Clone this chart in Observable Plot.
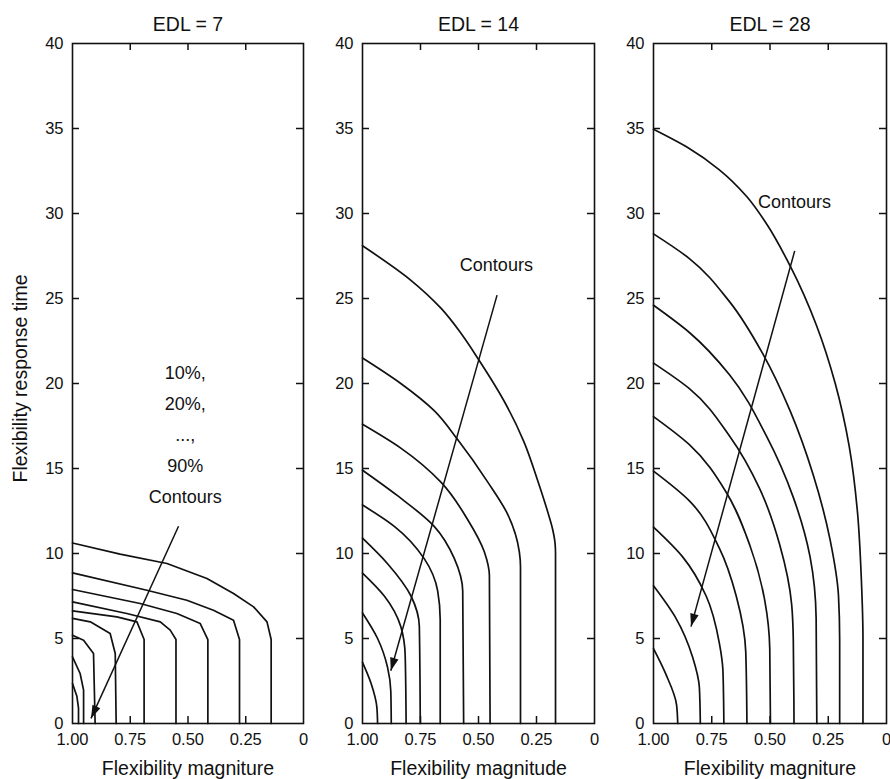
<!DOCTYPE html>
<html>
<head>
<meta charset="utf-8">
<script src="https://cdn.jsdelivr.net/npm/d3@7"></script>
<script src="https://cdn.jsdelivr.net/npm/@observablehq/plot@0.6"></script>
<style>
  body { margin: 0; background: #fff; }
  #chart { position: relative; width: 890px; height: 779px; background: #fff; }
  #chart svg { position: absolute; top: 0; }
</style>
</head>
<body>
<div id="chart"></div>
<script>
// ---------- data ----------
const panelTitles = ["EDL = 7", "EDL = 14", "EDL = 28"];
const xAxisLabels = ["Flexibility magniture", "Flexibility magnitude", "Flexibility magniture"];
const yAxisLabel = "Flexibility response time";
const xTickValues = [1, 0.75, 0.5, 0.25, 0];
const yTickValues = [0, 5, 10, 15, 20, 25, 30, 35, 40];

// contour lines, [flexibility magnitude, response time], outermost first
const edl7Contours = [
  [[1, 10.62], [0.794, 9.96], [0.591, 9.41], [0.418, 8.53], [0.303, 7.65], [0.216, 6.86], [0.158, 5.98], [0.140, 4.94], [0.140, 0]],
  [[1, 8.86], [0.678, 7.84], [0.505, 7.25], [0.39, 6.66], [0.303, 6.08], [0.277, 4.94], [0.277, 0]],
  [[1, 7.88], [0.707, 7.06], [0.548, 6.47], [0.447, 5.88], [0.414, 4.94], [0.414, 0]],
  [[1, 7.15], [0.765, 6.47], [0.62, 5.98], [0.577, 5.49], [0.552, 4.94], [0.552, 0]],
  [[1, 6.62], [0.808, 6.27], [0.721, 5.98], [0.69, 4.94], [0.69, 0]],
  [[1, 6.18], [0.923, 5.98], [0.837, 5.29], [0.815, 4.12], [0.811, 0]],
  [[1, 5.19], [0.952, 4.9], [0.909, 4.12], [0.902, 0]],
  [[1, 3.92], [0.967, 2.94], [0.952, 1.96], [0.952, 0]],
  [[1, 2.35], [0.981, 1.6], [0.974, 0.9], [0.974, 0]]
];
const edl14Contours = [
  [[1, 28.1], [0.794, 26.1], [0.66, 24.4], [0.578, 23.0], [0.499, 21.4], [0.391, 19.0], [0.305, 16.6], [0.245, 14.3], [0.205, 12.6], [0.18, 11.4], [0.17, 10.6], [0.168, 10.0], [0.168, 0]],
  [[1, 21.5], [0.835, 20.0], [0.691, 18.4], [0.59, 16.7], [0.46, 14.2], [0.374, 12.3], [0.324, 10.1], [0.319, 9.2], [0.319, 0]],
  [[1, 17.6], [0.835, 16.2], [0.662, 14.2], [0.547, 12.0], [0.475, 10.1], [0.453, 8.7], [0.45, 0]],
  [[1, 14.9], [0.849, 13.4], [0.691, 11.6], [0.604, 9.7], [0.568, 7.8], [0.564, 0]],
  [[1, 12.85], [0.863, 11.6], [0.734, 9.7], [0.676, 7.8], [0.665, 6.1], [0.665, 0]],
  [[1, 10.9], [0.892, 9.4], [0.791, 7.5], [0.755, 5.7], [0.751, 0]],
  [[1, 8.85], [0.906, 7.5], [0.835, 5.7], [0.816, 4.0], [0.812, 0]],
  [[1, 6.5], [0.935, 5.0], [0.892, 3.3], [0.878, 1.9], [0.876, 0]],
  [[1, 3.6], [0.964, 2.4], [0.938, 0.95], [0.935, 0]]
];
const edl28Contours = [
  [[1, 34.95], [0.85, 33.85], [0.72, 32.6], [0.60, 31.0], [0.513, 29.35], [0.413, 26.9], [0.30, 23.4], [0.22, 20.0], [0.16, 16.3], [0.125, 12.5], [0.108, 8.5], [0.101, 5.0], [0.101, 0]],
  [[1, 28.8], [0.846, 27.35], [0.673, 24.8], [0.529, 21.7], [0.414, 18.4], [0.314, 14.6], [0.242, 10.8], [0.206, 7.5], [0.201, 4.9], [0.201, 0]],
  [[1, 24.6], [0.846, 23.0], [0.673, 20.5], [0.515, 16.9], [0.4, 13.3], [0.328, 9.8], [0.302, 6.2], [0.299, 0]],
  [[1, 21.2], [0.846, 19.7], [0.673, 16.9], [0.544, 13.8], [0.458, 10.5], [0.407, 7.0], [0.4, 4.9], [0.397, 0]],
  [[1, 18.05], [0.846, 16.4], [0.688, 13.6], [0.587, 10.5], [0.522, 7.2], [0.501, 4.4], [0.498, 0]],
  [[1, 14.85], [0.846, 13.1], [0.717, 10.3], [0.645, 7.5], [0.604, 4.2], [0.599, 0]],
  [[1, 11.55], [0.875, 9.8], [0.774, 7.5], [0.717, 4.7], [0.702, 3.1], [0.698, 0]],
  [[1, 8.1], [0.904, 6.2], [0.832, 3.9], [0.803, 2.1], [0.799, 0]],
  [[1, 4.4], [0.947, 2.9], [0.901, 1.1], [0.896, 0]]
];

// annotations
const noteTexts = ["10%,\n20%,\n...,\n90%\nContours", "Contours", "Contours"];
const notePositions = [[0.512, 13.0], [0.423, 27.2], [0.395, 30.9]];
const noteAnchors = ["bottom", "middle", "middle"];
const arrowStarts = [[0.541, 11.6], [0.42, 25.2], [0.394, 27.8]];
const arrowEnds = [[0.92, 0.3], [0.878, 3.1], [0.839, 5.7]];

// ---------- layout ----------
const FONT = "'Liberation Sans', Arial, Helvetica, sans-serif";
const H = 779, MT = 43, MB = 56;
const layouts = [
  {left: 0,   width: 318, ml: 72, mr: 15},
  {left: 305, width: 300, ml: 57, mr: 11},
  {left: 596, width: 294, ml: 57, mr: 4}
];
const contourSets = [edl7Contours, edl14Contours, edl28Contours];
const curves = ["linear", "monotone-y", "monotone-y"];

function arrowHeadSymbol(ux, uy, L = 13, W = 4.3) {
  return {
    draw(ctx) {
      const bx = -ux * L, by = -uy * L, px = -uy * W, py = ux * W;
      ctx.moveTo(0, 0);
      ctx.lineTo(bx + px, by + py);
      ctx.lineTo(bx - px, by - py);
      ctx.closePath();
    }
  };
}

const fmtX = d => d === 0 ? "0" : d.toFixed(2);
const chart = document.getElementById("chart");

layouts.forEach((lay, i) => {
  const plotW = lay.width - lay.ml - lay.mr;
  const plotH = H - MT - MB;
  const rows = contourSets[i].flatMap((c, k) => c.map(([x, y]) => ({x, y, k})));
  const innerX = xTickValues.filter(d => d > 0 && d < 1);
  const innerY = yTickValues.filter(d => d > 0 && d < 40);
  const arrow = {x1: arrowStarts[i][0], y1: arrowStarts[i][1], x2: arrowEnds[i][0], y2: arrowEnds[i][1]};
  // direction of the arrow in screen space (x reversed, y up)
  const sx = -(arrow.x2 - arrow.x1) * plotW;
  const sy = -(arrow.y2 - arrow.y1) * plotH / 40;
  const len = Math.hypot(sx, sy);
  const head = arrowHeadSymbol(sx / len, sy / len);
  const note = {x: notePositions[i][0], y: notePositions[i][1], text: noteTexts[i]};

  const marks = [
    Plot.line(rows, {x: "x", y: "y", z: "k", curve: curves[i], stroke: "#111", strokeWidth: 1.7, strokeLinejoin: "round"}),
    Plot.tickX(innerX, {x: d => d, insetBottom: plotH - 7, stroke: "#111", strokeWidth: 1.5}),
    Plot.tickX(innerX, {x: d => d, insetTop: plotH - 7, stroke: "#111", strokeWidth: 1.5}),
    Plot.tickY(innerY, {y: d => d, insetRight: plotW - 7, stroke: "#111", strokeWidth: 1.5}),
    Plot.tickY(innerY, {y: d => d, insetLeft: plotW - 7, stroke: "#111", strokeWidth: 1.5}),
    Plot.frame({stroke: "#111", strokeWidth: 1.6}),
    Plot.link([arrow], {x1: "x1", y1: "y1", x2: "x2", y2: "y2", stroke: "#111", strokeWidth: 1.5}),
    Plot.dot([arrow], {x: "x2", y: "y2", symbol: head, r: 5, fill: "#111", stroke: "none"}),
    Plot.text([note], {x: "x", y: "y", text: "text", lineAnchor: noteAnchors[i], lineHeight: 1.72, fontSize: 18, fill: "#111"}),
    Plot.text([panelTitles[i]], {text: d => d, frameAnchor: "top", lineAnchor: "bottom", dy: -12.6, fontSize: 19.5, fill: "#111"}),
    Plot.text([xAxisLabels[i]], {text: d => d, frameAnchor: "bottom", lineAnchor: "bottom", dy: 51, fontSize: 19.5, fill: "#111"})
  ];
  if (i === 0) {
    marks.push(Plot.text([yAxisLabel], {text: d => d, frameAnchor: "left", textAnchor: "middle", rotate: -90, lineAnchor: "bottom", dx: -46, dy: -5, fontSize: 19.5, fill: "#111"}));
  }

  const svg = Plot.plot({
    width: lay.width,
    height: H,
    marginLeft: lay.ml,
    marginRight: lay.mr,
    marginTop: MT,
    marginBottom: MB,
    style: {fontFamily: FONT, fontSize: "16.5px", color: "#111", background: "transparent", overflow: "visible"},
    x: {domain: [1, 0], ticks: xTickValues, tickFormat: fmtX, tickSize: 0, tickPadding: 10, label: null},
    y: {domain: [0, 40], ticks: yTickValues, tickSize: 0, tickPadding: 9, label: null},
    marks
  });
  svg.style.left = lay.left + "px";
  chart.appendChild(svg);
});
</script>
</body>
</html>
